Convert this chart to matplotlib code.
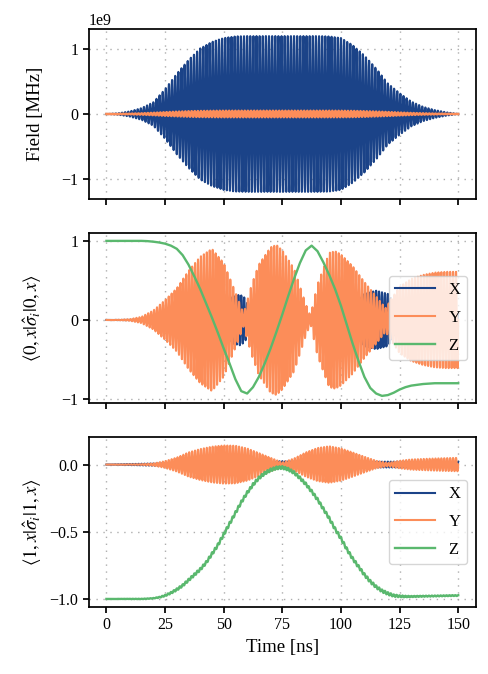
import numpy as np
import matplotlib
matplotlib.use("Agg")
import matplotlib.pyplot as plt

# ---------------- data ----------------
# Drive field envelopes (units of 1e9), knots in ns
field_t = [0, 5, 10, 15, 20, 25, 30, 35, 40, 45, 50, 55, 60, 65, 70, 75,
           80, 85, 90, 95, 100, 105, 110, 115, 120, 125, 130, 135, 140, 145, 150]
field_x_env = [0.0, 0.01, 0.04, 0.09, 0.18, 0.38, 0.62, 0.83, 1.01, 1.11, 1.17, 1.195, 1.2, 1.2, 1.2, 1.2,
               1.2, 1.2, 1.2, 1.195, 1.17, 1.06, 0.9, 0.7, 0.47, 0.32, 0.19, 0.11, 0.06, 0.025, 0.0]
field_y_env = [0.0, 0.002, 0.005, 0.01, 0.018, 0.027, 0.035, 0.042, 0.046, 0.048, 0.05, 0.05, 0.05, 0.05, 0.05, 0.05,
               0.05, 0.05, 0.05, 0.05, 0.049, 0.047, 0.043, 0.037, 0.03, 0.022, 0.015, 0.01, 0.006, 0.003, 0.0]
field_scale = 1e9
field_carrier_ghz = 0.75

# Qubit 0 expectation values
q0_y_t = [0, 5, 10, 15, 20, 25, 30, 35, 40, 45, 50, 55, 58.5, 62, 65, 70, 72.5, 75, 80, 85, 87, 90,
          95, 97.5, 100, 105, 110, 115, 119, 125, 130, 135, 140, 145, 150]
q0_y_env = [0.0, 0.002, 0.01, 0.04, 0.12, 0.25, 0.4, 0.62, 0.8, 0.9, 0.72, 0.35, 0.08, 0.45, 0.7, 0.92, 0.95, 0.88,
            0.65, 0.2, 0.05, 0.45, 0.85, 0.87, 0.83, 0.68, 0.48, 0.3, 0.15, 0.42, 0.52, 0.57, 0.6, 0.61, 0.61]
q0_x_t = [0, 10, 20, 30, 40, 50, 54, 57, 59, 61, 65, 70, 80, 87, 95, 105, 110, 115, 120, 123, 127, 135, 150]
q0_x_env = [0.0, 0.003, 0.02, 0.05, 0.08, 0.15, 0.3, 0.32, 0.28, 0.15, 0.1, 0.08, 0.05, 0.03, 0.06, 0.15,
            0.33, 0.37, 0.33, 0.2, 0.12, 0.1, 0.08]
z_t = [0, 2.5, 5, 7.5, 10, 12.5, 15, 17.5, 20, 22.5, 25, 27.5, 30, 32.5, 35, 37.5, 40, 42.5, 45, 47.5,
       50, 52.5, 55, 57.5, 60, 62.5, 65, 67.5, 70, 72.5, 75, 77.5, 80, 82.5, 85, 87.5, 90, 92.5, 95, 97.5,
       100, 102.5, 105, 107.5, 110, 112.5, 115, 117.5, 120, 122.5, 125, 127.5, 130, 132.5, 135, 137.5,
       140, 142.5, 145, 147.5, 150]
q0_z = [1.0, 1.0, 1.0, 1.0, 1.0, 1.0, 1.0, 0.997, 0.99, 0.98, 0.965, 0.94, 0.9, 0.82, 0.7, 0.55, 0.39, 0.21,
        0.03, -0.16, -0.36, -0.55, -0.75, -0.9, -0.93, -0.85, -0.72, -0.55, -0.36, -0.15, 0.07, 0.3, 0.52,
        0.72, 0.88, 0.94, 0.87, 0.73, 0.57, 0.39, 0.18, -0.06, -0.3, -0.52, -0.72, -0.86, -0.93, -0.96,
        -0.95, -0.92, -0.88, -0.85, -0.83, -0.82, -0.81, -0.805, -0.8, -0.8, -0.8, -0.8, -0.8]

# Qubit 1 expectation values
q1_y_t = [0, 10, 15, 20, 25, 30, 35, 40, 45, 50, 55, 60, 65, 70, 75, 80, 85, 90, 95, 100, 105, 110,
          115, 120, 125, 130, 140, 150]
q1_y_env = [0.0, 0.001, 0.003, 0.008, 0.025, 0.052, 0.09, 0.115, 0.133, 0.142, 0.14, 0.12, 0.085, 0.05,
            0.015, 0.045, 0.09, 0.123, 0.136, 0.12, 0.09, 0.058, 0.028, 0.012, 0.028, 0.038, 0.045, 0.05]
q1_x_t = [0, 20, 40, 60, 75, 90, 105, 120, 135, 150]
q1_x_env = [0.0, 0.008, 0.015, 0.02, 0.025, 0.02, 0.02, 0.022, 0.02, 0.02]
q1_z = [-1.0, -1.0, -1.0, -1.0, -1.0, -1.0, -1.0, -0.998, -0.995, -0.988, -0.975, -0.955, -0.93, -0.9,
        -0.86, -0.82, -0.78, -0.73, -0.665, -0.6, -0.52, -0.44, -0.36, -0.28, -0.21, -0.15, -0.1, -0.065,
        -0.04, -0.025, -0.022, -0.035, -0.06, -0.1, -0.145, -0.2, -0.26, -0.33, -0.4, -0.48, -0.55, -0.63,
        -0.7, -0.76, -0.82, -0.87, -0.91, -0.94, -0.96, -0.975, -0.98, -0.982, -0.982, -0.981, -0.98,
        -0.979, -0.978, -0.977, -0.976, -0.975, -0.975]
q1_z_ripple_t = [0, 20, 30, 50, 75, 100, 120, 130, 150]
q1_z_ripple = [0.0, 0.002, 0.008, 0.012, 0.01, 0.012, 0.01, 0.004, 0.003]
qubit_carrier_ghz = 0.8

x_ticks = [0, 25, 50, 75, 100, 125, 150]
labels = ["X", "Y", "Z"]

# ---------------- style ----------------
plt.rcParams["font.family"] = ["Liberation Serif", "DejaVu Serif"]
plt.rcParams["mathtext.fontset"] = "stix"
plt.rcParams["axes.linewidth"] = 1.25
plt.rcParams["xtick.major.width"] = 1.25
plt.rcParams["ytick.major.width"] = 1.25
plt.rcParams["xtick.major.size"] = 4
plt.rcParams["ytick.major.size"] = 4
plt.rcParams["xtick.labelsize"] = 11.5
plt.rcParams["ytick.labelsize"] = 11.5

c_x = "#1b4388"
c_y = "#fc8d59"
c_z = "#5ab86e"
lw = 1.5
label_fs = 13.5

t = np.linspace(0, 150, 6001)

def env(tk, vk):
    return np.interp(t, tk, vk)

fig, axes = plt.subplots(3, 1, figsize=(4.88, 6.74), dpi=100, sharex=True)
fig.subplots_adjust(left=0.182, right=0.975, top=0.957, bottom=0.0994, hspace=0.2)

# top: field
ax = axes[0]
ph_f = 2 * np.pi * field_carrier_ghz * t
ax.plot(t, env(field_t, field_x_env) * field_scale * np.cos(ph_f), color=c_x, lw=1.55)
ax.plot(t, env(field_t, field_y_env) * field_scale * np.sin(ph_f), color=c_y, lw=1.8)
ax.set_ylim(-1.31e9, 1.31e9)
ax.set_yticks([-1e9, 0, 1e9])
ax.set_ylabel("Field [MHz]", fontsize=label_fs)

# middle: qubit 0
ax = axes[1]
ph_q = 2 * np.pi * qubit_carrier_ghz * t
ax.plot(t, env(q0_x_t, q0_x_env) * np.cos(ph_q), color=c_x, lw=lw, label=labels[0])
ax.plot(t, env(q0_y_t, q0_y_env) * np.sin(ph_q), color=c_y, lw=lw, label=labels[1])
ax.plot(z_t, q0_z, color=c_z, lw=1.7, label=labels[2])
ax.set_ylim(-1.05, 1.1)
ax.set_yticks([-1, 0, 1])
ax.set_ylabel(r"$\langle 0,x|\hat{\sigma}_i|0,x\rangle$", fontsize=label_fs)
ax.legend(loc="center right", fontsize=12, handlelength=2.4, labelspacing=0.7)

# bottom: qubit 1
ax = axes[2]
ax.plot(t, env(q1_x_t, q1_x_env) * np.cos(ph_q), color=c_x, lw=lw, label=labels[0])
ax.plot(t, env(q1_y_t, q1_y_env) * np.sin(ph_q), color=c_y, lw=lw, label=labels[1])
ax.plot(t, env(z_t, q1_z) + env(q1_z_ripple_t, q1_z_ripple) * np.cos(ph_q), color=c_z, lw=1.7,
        label=labels[2])
ax.set_ylim(-1.06, 0.205)
ax.set_yticks([-1.0, -0.5, 0.0])
ax.set_ylabel(r"$\langle 1,x|\hat{\sigma}_i|1,x\rangle$", fontsize=label_fs)
ax.legend(loc="center right", fontsize=12, handlelength=2.4, labelspacing=0.7)
ax.set_xlabel("Time [ns]", fontsize=label_fs)

for ax in axes:
    ax.set_xlim(-7.5, 157.5)
    ax.set_xticks(x_ticks)
    ax.grid(True, linestyle=(0, (1, 4)), color="0.6", lw=1.0, alpha=0.8)
    ax.tick_params(direction="out")
axes[0].yaxis.get_offset_text().set_fontsize(11.5)

fig.align_ylabels(axes)
fig.savefig("out.png", dpi=100)
